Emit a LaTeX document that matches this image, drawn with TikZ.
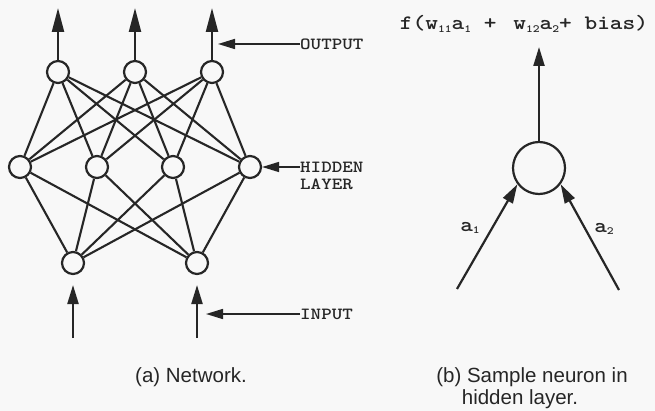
\documentclass[tikz,border=0pt]{standalone}
\usepackage{graphicx}
\usepackage{fontspec}
\setsansfont{Liberation Sans}
\usetikzlibrary{arrows.meta}
\definecolor{ink}{HTML}{262626}
\definecolor{paper}{HTML}{F8F8F8}
\newcommand{\msub}[1]{\raisebox{-0.3ex}{\fontsize{11}{11}\selectfont #1}}
\newcommand{\widetxt}[1]{\scalebox{1.18}[1]{#1}}
\tikzset{
  neuron/.style={circle,draw=ink,line width=2.2pt,fill=paper,minimum size=22pt,inner sep=0pt},
  bigneuron/.style={circle,draw=ink,line width=2.2pt,fill=paper,minimum size=52pt,inner sep=0pt},
  edge/.style={draw=ink,line width=2.1pt},
  bigarrow/.style={draw=ink,line width=2.2pt,-{Triangle[length=24pt,width=12pt]}},
  labarrow/.style={draw=ink,line width=1.6pt,-{Triangle[length=17pt,width=10pt]}},
  inarrow/.style={draw=ink,line width=2.2pt,-{Triangle[length=19pt,width=11pt]}},
  lbl/.style={text=ink,font=\ttfamily\bfseries\fontsize{17}{18}\selectfont,inner sep=0pt,anchor=west},
  caption/.style={text=ink,font=\sffamily\fontsize{20.5}{22}\selectfont,inner sep=0pt},
  formula/.style={text=ink,font=\ttfamily\bfseries\fontsize{20.5}{22}\selectfont,inner sep=0pt}
}
\begin{document}
\begin{tikzpicture}[x=1pt,y=-1pt]
\fill[paper] (0,0) rectangle (655,411);
\useasboundingbox (0,0) rectangle (655,411);
% network nodes
\node[neuron] (o1) at (58,72) {};
\node[neuron] (o2) at (135,72) {};
\node[neuron] (o3) at (212,72) {};
\node[neuron] (h1) at (20,167) {};
\node[neuron] (h2) at (97,167) {};
\node[neuron] (h3) at (173,167) {};
\node[neuron] (h4) at (250,167) {};
\node[neuron] (i1) at (73,263) {};
\node[neuron] (i2) at (197,263) {};
% connections
\foreach \o in {o1,o2,o3}{
  \foreach \h in {h1,h2,h3,h4}{
    \draw[edge] (\o) -- (\h);
  }
}
\foreach \h in {h1,h2,h3,h4}{
  \foreach \i in {i1,i2}{
    \draw[edge] (\h) -- (\i);
  }
}
% output arrows
\coordinate (t1) at (58,8);
\coordinate (t2) at (135,8);
\coordinate (t3) at (212,8);
\draw[bigarrow] (o1) -- (t1);
\draw[bigarrow] (o2) -- (t2);
\draw[bigarrow] (o3) -- (t3);
% input arrows
\coordinate (b1) at (73,338);
\coordinate (b2) at (197,338);
\coordinate (u1) at (73,285);
\coordinate (u2) at (197,285);
\draw[inarrow] (b1) -- (u1);
\draw[inarrow] (b2) -- (u2);
% labels
\node[lbl] (lout) at (300,44) {\widetxt{OUTPUT}};
\coordinate (pout) at (218,44);
\draw[labarrow] (lout.west) -- (pout);
\node[lbl] (lhid) at (300,167) {\widetxt{HIDDEN}};
\node[lbl] (llay) at (300,184) {\widetxt{LAYER}};
\draw[labarrow] (lhid.west) -- (h4.east);
\node[lbl] (lin) at (300,314) {\widetxt{INPUT}};
\coordinate (pin) at (206,314);
\draw[labarrow] (lin.west) -- (pin);
% captions
\node[caption] (capa) at (191,377) {(a) Network.};
\node[caption] (capb1) at (532,377) {(b) Sample neuron in};
\node[caption] (capb2) at (520,399) {hidden layer.};
% sample neuron
\node[bigneuron] (n) at (539,168) {};
\node[formula] (f) at (524,24) {\widetxt{f(w\msub{11}a\msub{1} + \,w\msub{12}a\msub{2}+ bias)}};
\coordinate (ftip) at (539,47);
\draw[inarrow] (n.north) -- (ftip);
\coordinate (s1) at (457,289);
\coordinate (s2) at (619,290);
\draw[inarrow] (s1) -- (n.217);
\draw[inarrow] (s2) -- (n.323);
\node[formula] (a1) at (470,228) {\widetxt{a\msub{1}}};
\node[formula] (a2) at (604,229) {\widetxt{a\msub{2}}};
\end{tikzpicture}
\end{document}
